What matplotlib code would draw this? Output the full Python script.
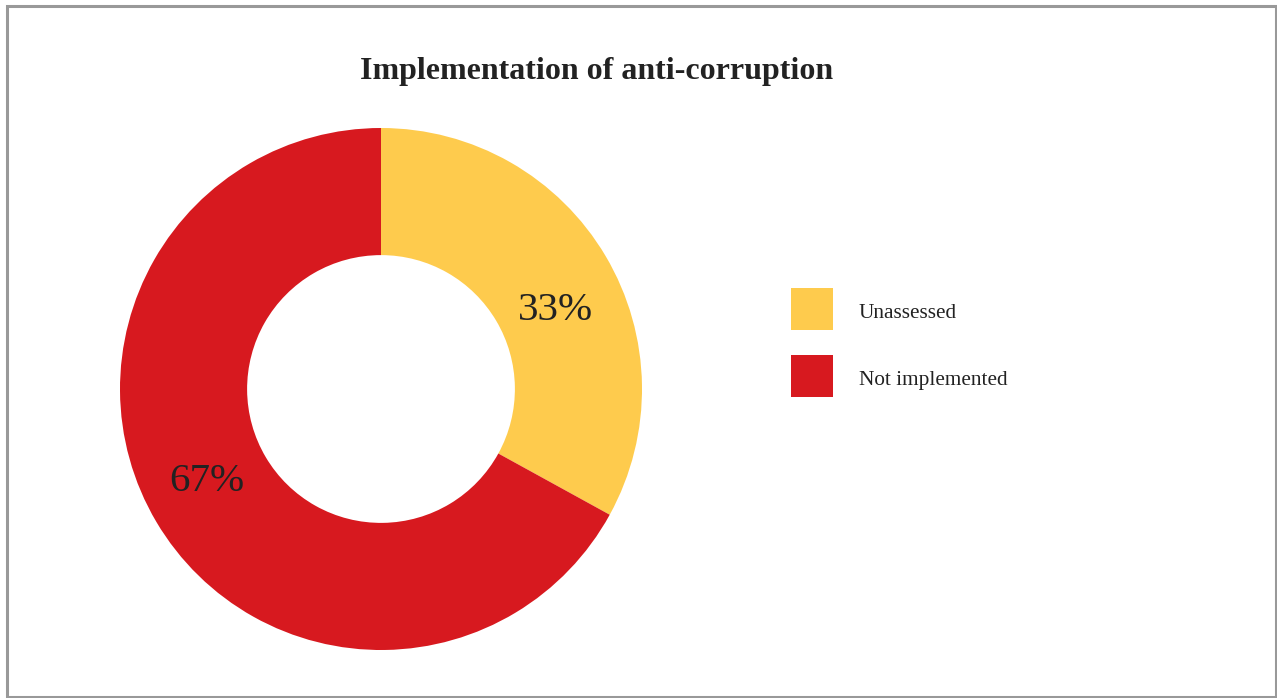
import matplotlib
matplotlib.use("Agg")
import numpy as np
import matplotlib.pyplot as plt
from matplotlib.patches import Rectangle

labels = ["Unassessed", "Not implemented"]
values = [33, 67]
colors = ["#FECB4D", "#D7191F"]
title = "Implementation of anti-corruption"

W, H = 1277, 698
fig = plt.figure(figsize=(W / 100, H / 100), dpi=100)
plt.rcParams["font.family"] = ["Liberation Serif", "DejaVu Serif"]

cx, cy, R = 381, 389, 261
ax = fig.add_axes([(cx - R) / W, (H - cy - R) / H, 2 * R / W, 2 * R / H])
wedges, texts = ax.pie(
    values, colors=colors, startangle=90, counterclock=False,
    radius=1, wedgeprops=dict(width=0.487, linewidth=0))
ax.set_xlim(-1, 1)
ax.set_ylim(-1, 1)
ax.set_aspect("equal")

# percentage labels placed in the ring
total = sum(values)
for w, v in zip(wedges, values):
    mid = np.deg2rad((w.theta1 + w.theta2) / 2 - 4.5)
    r = 0.745
    ax.text(r * np.cos(mid), r * np.sin(mid) - 0.027, f"{100 * v / total:.0f}%",
            ha="center", va="center", fontsize=29.5, color="#222222")

fig.text(597 / W, 1 - 72 / H, title, ha="center", va="center",
         fontsize=23, fontweight="bold", color="#222222")

# legend
sq = 42
for i, (lab, c) in enumerate(zip(labels, colors)):
    top = 288 + i * 67
    fig.patches.append(Rectangle((791 / W, 1 - (top + sq) / H), sq / W, sq / H,
                                 transform=fig.transFigure, facecolor=c,
                                 edgecolor="none"))
    fig.text(859 / W, 1 - (top + sq / 2 + 4) / H, lab, ha="left", va="center",
             fontsize=15.3, color="#222222")

fig.patches.append(Rectangle((6.5 / W, 1 / H), (1276 - 6.5) / W, 691 / H,
                             transform=fig.transFigure, fill=False,
                             edgecolor="#999999", linewidth=2.2))

fig.savefig("out.png", dpi=100)
